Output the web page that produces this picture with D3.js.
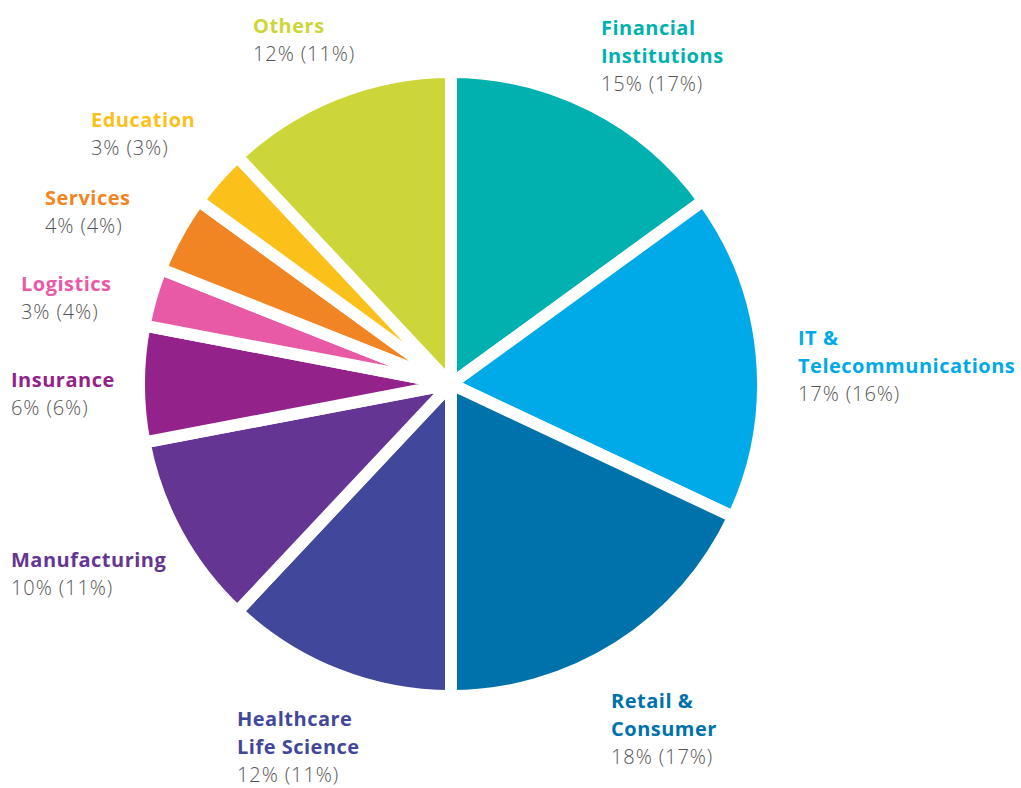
<!DOCTYPE html>
<html>
<head>
<meta charset="utf-8">
<script src="https://cdn.jsdelivr.net/npm/d3@7"></script>
<style>
body { margin:0; background:#fff; }
svg text { font-family: "Open Sans", Roboto, sans-serif; }
</style>
</head>
<body>
<svg id="chart" width="1021" height="788"></svg>
<script>
// sectors, clockwise from 12 o'clock
var sectors = ["Financial Institutions","IT & Telecommunications","Retail & Consumer","Healthcare Life Science","Manufacturing","Insurance","Logistics","Services","Education","Others"];
var nameLines = [["Financial","Institutions"],["IT &","Telecommunications"],["Retail &","Consumer"],["Healthcare","Life Science"],["Manufacturing"],["Insurance"],["Logistics"],["Services"],["Education"],["Others"]];
var shareNow = [15,17,18,12,10,6,3,4,3,12];
var sharePrev = [17,16,17,11,11,6,4,4,3,11];
var colors = ["#00b1af","#00a9e7","#0072ab","#41479b","#643592","#93228b","#e85aa6","#f28523","#fbc11a","#cdd638"];

// where each label block starts (left x, first baseline)
var labelAt = [[601,35],[798,345],[611,708],[237,726],[11,567],[11,387],[21,291],[45,205],[91,127],[253,33]];

var svg = d3.select("#chart");
var cx = 451, cy = 384, R = 312;

var pie = d3.pie().sort(null).value(function(d){ return d; });
var arc = d3.arc().innerRadius(0).outerRadius(R);

svg.append("g")
	.attr("transform","translate("+cx+","+cy+")")
	.selectAll("path")
	.data(pie(shareNow))
	.enter()
	.append("path")
	.attr("d",arc)
	.attr("fill",function(d,i){ return colors[i]; })
	.attr("stroke","#fff")
	.attr("stroke-width",12)
	.attr("stroke-linejoin","miter");

var lh = 28;
var lbl = svg.append("g").selectAll("g")
	.data(sectors)
	.enter()
	.append("g")
	.attr("transform",function(d,i){ return "translate("+labelAt[i][0]+","+labelAt[i][1]+")"; });

lbl.each(function(d,i){
	var g = d3.select(this);
	nameLines[i].forEach(function(t,k){
		g.append("text")
			.attr("y",k*lh)
			.attr("fill",colors[i])
			.attr("font-size",20)
			.attr("font-weight",700)
			.attr("letter-spacing",0.5)
			.text(t);
		});
	g.append("text")
		.attr("y",nameLines[i].length*lh)
		.attr("fill","#555")
		.attr("font-family","Roboto, sans-serif")
		.attr("font-size",20)
		.attr("font-weight",300)
		.attr("letter-spacing",0.9)
		.text(shareNow[i]+"% ("+sharePrev[i]+"%)");
	});
</script>
</body>
</html>
